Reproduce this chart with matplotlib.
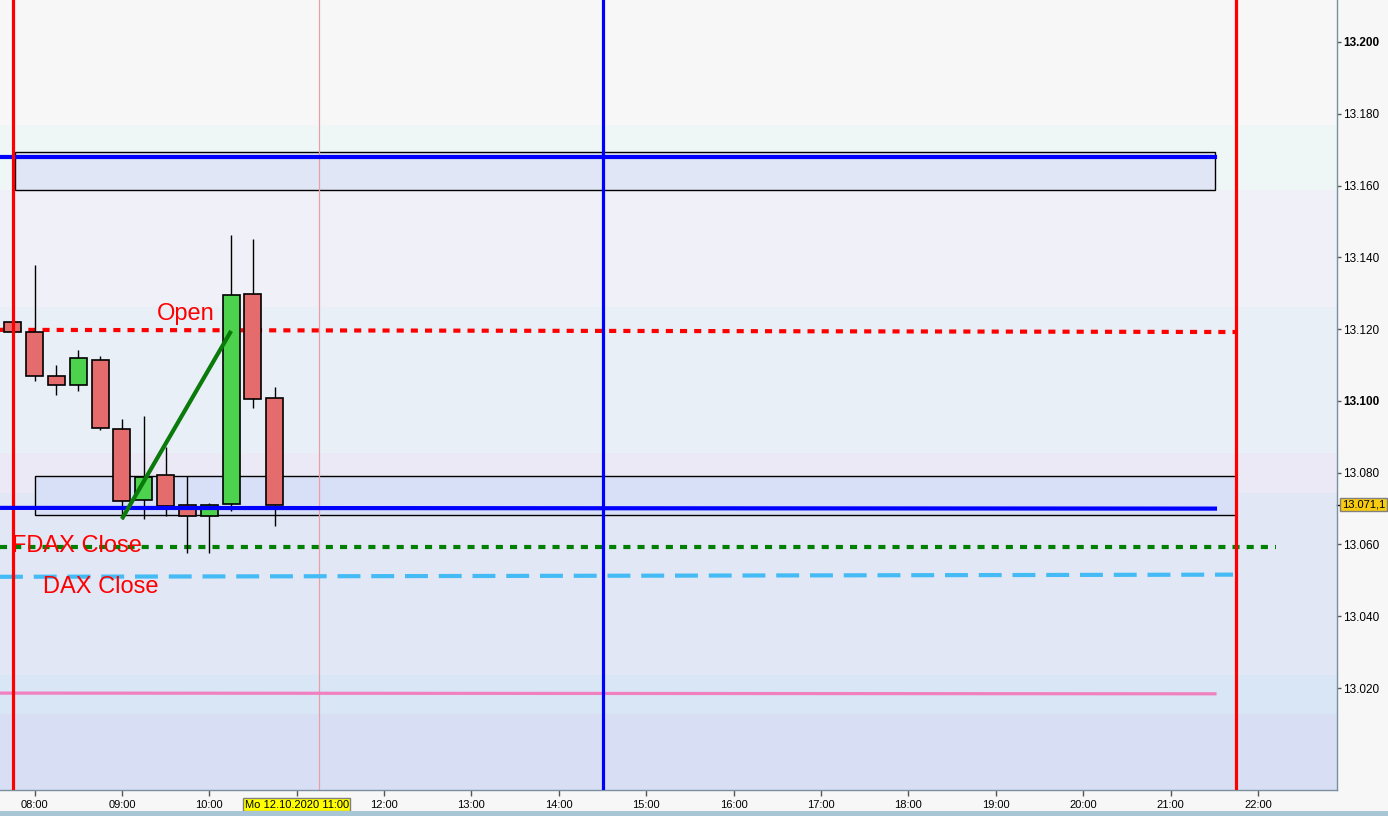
import matplotlib.pyplot as plt
from matplotlib.patches import Rectangle

plt.rcParams["font.family"] = ["Liberation Sans", "DejaVu Sans"]

# 15-minute FDAX candles, 12.10.2020
CANDLE_TIMES = ["07:45", "08:00", "08:15", "08:30", "08:45", "09:00", "09:15",
                "09:30", "09:45", "10:00", "10:15", "10:30", "10:45"]
OPENS = [13121.9, 13119.1, 13106.9, 13104.4, 13111.3, 13092.1, 13072.4,
         13079.5, 13070.9, 13068.0, 13071.3, 13129.9, 13100.7]
HIGHS = [13122.0, 13137.8, 13110.0, 13114.2, 13112.5, 13094.9, 13095.8,
         13087.1, 13079.2, 13071.6, 13146.1, 13145.0, 13103.8]
LOWS = [13119.2, 13105.6, 13101.7, 13102.9, 13092.0, 13067.0, 13067.1,
        13068.0, 13057.5, 13057.7, 13069.3, 13098.1, 13065.1]
CLOSES = [13119.2, 13106.9, 13104.4, 13111.9, 13092.4, 13072.1, 13078.8,
          13070.8, 13068.0, 13070.9, 13129.6, 13100.5, 13071.1]
LAST_PRICE = 13071.1

# drawn levels
OPEN_LEVEL = [13119.8, 13119.2]
FDAX_CLOSE = 13059.2
DAX_CLOSE = [13051.0, 13051.6]
UPPER_LEVEL = 13168.0
LOWER_LEVEL = [13070.2, 13070.0]
PINK_LEVEL = [13018.6, 13018.4]
UPPER_ZONE = [13158.8, 13169.4]
LOWER_ZONE = [13068.2, 13079.1]
TREND_TIMES = ["09:00", "10:15"]
TREND_PRICES = [13067.1, 13119.5]

# background profile bands (price edges, colours)
BAND_EDGES = [13220, 13176.9, 13158.8, 13126.2, 13085.5, 13074.3, 13023.6, 13012.8, 12980]
BAND_COLORS = ["#f7f7f7", "#eff7f6", "#eff0f8", "#e8eff7", "#ebe9f5",
               "#e2e7f5", "#d8e6f6", "#d8dff5"]

Y_TICKS = [13020, 13040, 13060, 13080, 13100, 13120, 13140, 13160, 13180, 13200]
X_TICKS = list(range(8, 23))


def hours(t):
    h, m = t.split(":")
    return int(h) + int(m) / 60


def de_price(v, dec=0):
    s = f"{v:,.{dec}f}"
    return s.replace(",", "X").replace(".", ",").replace("X", ".")


fig = plt.figure(figsize=(13.88, 8.16), dpi=100, facecolor="#f7f7f7")
ax = fig.add_axes([0, 26 / 816, 1336.5 / 1388, 790 / 816])
ax.set_facecolor("#f7f7f7")
ax.set_xlim(7.6052, 22.899)
ax.set_ylim(12991.6, 13211.7)

for top, bot, col in zip(BAND_EDGES[:-1], BAND_EDGES[1:], BAND_COLORS):
    ax.axhspan(bot, top, color=col, lw=0, zorder=0)

x_end_box = hours("21:30") + 0.008
ax.add_patch(Rectangle((7.777, UPPER_ZONE[0]), x_end_box - 7.777, UPPER_ZONE[1] - UPPER_ZONE[0],
                       facecolor="#e0e6f5", edgecolor="black", lw=1, zorder=1))
ax.add_patch(Rectangle((hours("08:00"), LOWER_ZONE[0]), hours("21:45") - hours("08:00"),
                       LOWER_ZONE[1] - LOWER_ZONE[0],
                       facecolor="#d8e0f7", edgecolor="black", lw=1, zorder=1))

# vertical markers
ax.axvline(hours("11:15"), color="#e8a0a8", lw=0.9, zorder=1)
ax.axvline(hours("07:45"), color="#ff0000", lw=2.3, zorder=5)
ax.axvline(hours("21:45"), color="#ff0000", lw=2.3, zorder=5)
ax.axvline(hours("14:30"), color="#0000ff", lw=2.3, zorder=5)

x0 = 7.6052
ax.plot([x0, hours("21:45")], OPEN_LEVEL, color="#ff0000", lw=3,
        linestyle=(0, (1.7, 1.7)), zorder=3)
ax.plot([x0, 22.21], [FDAX_CLOSE, FDAX_CLOSE], color="#008000", lw=3,
        linestyle=(0, (1.7, 1.7)), zorder=3)
ax.plot([x0, 21.715], DAX_CLOSE, color="#44bbf5", lw=3,
        linestyle=(0, (5.5, 2.6)), zorder=3)
ax.plot([x0, x_end_box], [UPPER_LEVEL, UPPER_LEVEL], color="#0000ff", lw=3, zorder=3)
ax.plot([x0, x_end_box], PINK_LEVEL, color="#f080c0", lw=2.3, zorder=3)

# candles
xs = [hours(t) for t in CANDLE_TIMES]
ax.vlines(xs, LOWS, HIGHS, color="black", lw=1, zorder=4)
for x, o, c in zip(xs, OPENS, CLOSES):
    col = "#4cd24c" if c >= o else "#e46c6c"
    ax.bar(x, abs(c - o), bottom=min(o, c), width=0.195, color=col,
           edgecolor="black", lw=1.2, zorder=4)

ax.plot([x0, x_end_box], LOWER_LEVEL, color="#0000ff", lw=3, zorder=6)
ax.plot([hours(t) for t in TREND_TIMES], TREND_PRICES, color="#0a7a0a", lw=3,
        solid_capstyle="butt", zorder=6)

ax.text(9.402, 13124.3, "Open", color="#ff0000", fontsize=17, va="center", zorder=7)
ax.text(7.742, 13059.6, "FDAX Close", color="#ff0000", fontsize=17, va="center", zorder=7)
ax.text(8.097, 13048.2, "DAX Close", color="#ff0000", fontsize=17, va="center", zorder=7)

# axes styling
for side in ["left", "top"]:
    ax.spines[side].set_visible(False)
for side in ["right", "bottom"]:
    ax.spines[side].set_color("#7890a0")
    ax.spines[side].set_linewidth(1)

ax.yaxis.tick_right()
ax.set_yticks(Y_TICKS, [de_price(v) for v in Y_TICKS])
for lab, v in zip(ax.get_yticklabels(), Y_TICKS):
    if v % 100 == 0:
        lab.set_fontweight("bold")
ax.tick_params(axis="y", length=3, width=1, color="#555555", labelsize=8.5, pad=1.5)

x_labels = [f"{h:02d}:00" for h in X_TICKS]
x_labels[X_TICKS.index(11)] = "Mo 12.10.2020 11:00"
ax.set_xticks(X_TICKS, x_labels)
ax.tick_params(axis="x", length=4, width=1, color="#555555", labelsize=8, pad=3)
for lab, h in zip(ax.get_xticklabels(), X_TICKS):
    if h == 11:
        lab.set_bbox(dict(boxstyle="square,pad=0.15", facecolor="#ffff00",
                          edgecolor="#808080", lw=1))

# last price marker on the price axis
ax.annotate(de_price(LAST_PRICE, 1), xy=(1, LAST_PRICE), xycoords=("axes fraction", "data"),
            xytext=(4, 0), textcoords="offset points", va="center", ha="left", fontsize=8,
            bbox=dict(boxstyle="square,pad=0.15", facecolor="#f8cc10", edgecolor="#808080", lw=1),
            annotation_clip=False)
ax.plot([1, 1.004], [LAST_PRICE, LAST_PRICE], color="black", lw=1,
        transform=ax.get_yaxis_transform(), clip_on=False)

fig.patches.append(Rectangle((0, 0), 1, 5 / 816, transform=fig.transFigure,
                             facecolor="#a9c6d6", edgecolor="none"))

fig.savefig("out.png", dpi=100, facecolor=fig.get_facecolor())
